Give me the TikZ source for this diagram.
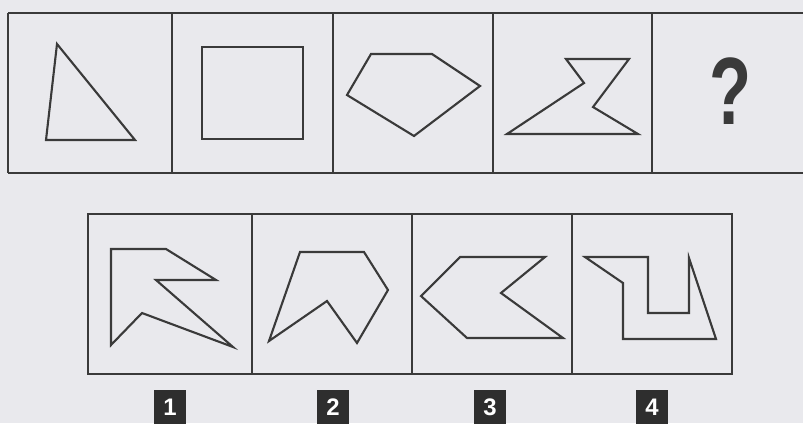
\documentclass[tikz,border=0pt]{standalone}
\usepackage{fontspec}
\setmainfont{Liberation Sans}
\usetikzlibrary{positioning}
\definecolor{paper}{HTML}{E9E9ED}
\definecolor{ink}{HTML}{3A3A3A}
\definecolor{tagfill}{HTML}{2E2E2E}
\begin{document}
\begin{tikzpicture}[x=0.025cm, y=-0.025cm, line width=1.5pt,
    fig/.style={draw=ink, line join=miter},
    tag/.style={fill=tagfill, text=white, inner sep=0pt,
        minimum width=0.8cm, minimum height=0.85cm,
        font=\fontsize{17}{17}\selectfont\bfseries}]
    \useasboundingbox (0,0) rectangle (803,423);
    \clip (0,0) rectangle (803,423);
    \fill[paper] (0,0) rectangle (803,423);
    % question row
    \draw[ink] (8,13) -- (810,13) (8,173) -- (810,173);
    \foreach \x in {8,172,333,493,652}
        \draw[ink] (\x,13) -- (\x,173);
    \draw[fig] (57,44) -- (46,140) -- (135,140) -- cycle;
    \draw[fig] (202,47) rectangle (303,139);
    \draw[fig] (347,95) -- (371,54) -- (432,54) -- (480,86) -- (414,136) -- cycle;
    \draw[fig] (566,59) -- (629,59) -- (593,107) -- (638,134) -- (507,134) -- (584,83) -- cycle;
    \node[text=ink, font=\fontsize{68}{68}\selectfont\bfseries, xscale=0.72] (q) at (731,91) {?};
    % answer row
    \draw[ink] (88,214) rectangle (732,374);
    \foreach \x in {252,412,572}
        \draw[ink] (\x,214) -- (\x,374);
    \draw[fig] (111,249) -- (166,249) -- (216,280) -- (156,280) -- (233,347) -- (142,313) -- (111,345) -- cycle;
    \draw[fig] (300,252) -- (364,252) -- (388,290) -- (357,343) -- (327,301) -- (269,341) -- cycle;
    \draw[fig] (460,257) -- (545,257) -- (501,293) -- (563,338) -- (467,338) -- (421,296) -- cycle;
    \draw[fig] (585,257) -- (648,257) -- (648,313) -- (689,313) -- (689,258) -- (716,339) -- (623,339) -- (623,283) -- cycle;
    % option tags
    \foreach \x/\num in {170/1, 333/2, 490/3, 652/4}
        \node[tag] (tag\num) at (\x,407) {\num};
\end{tikzpicture}
\end{document}
